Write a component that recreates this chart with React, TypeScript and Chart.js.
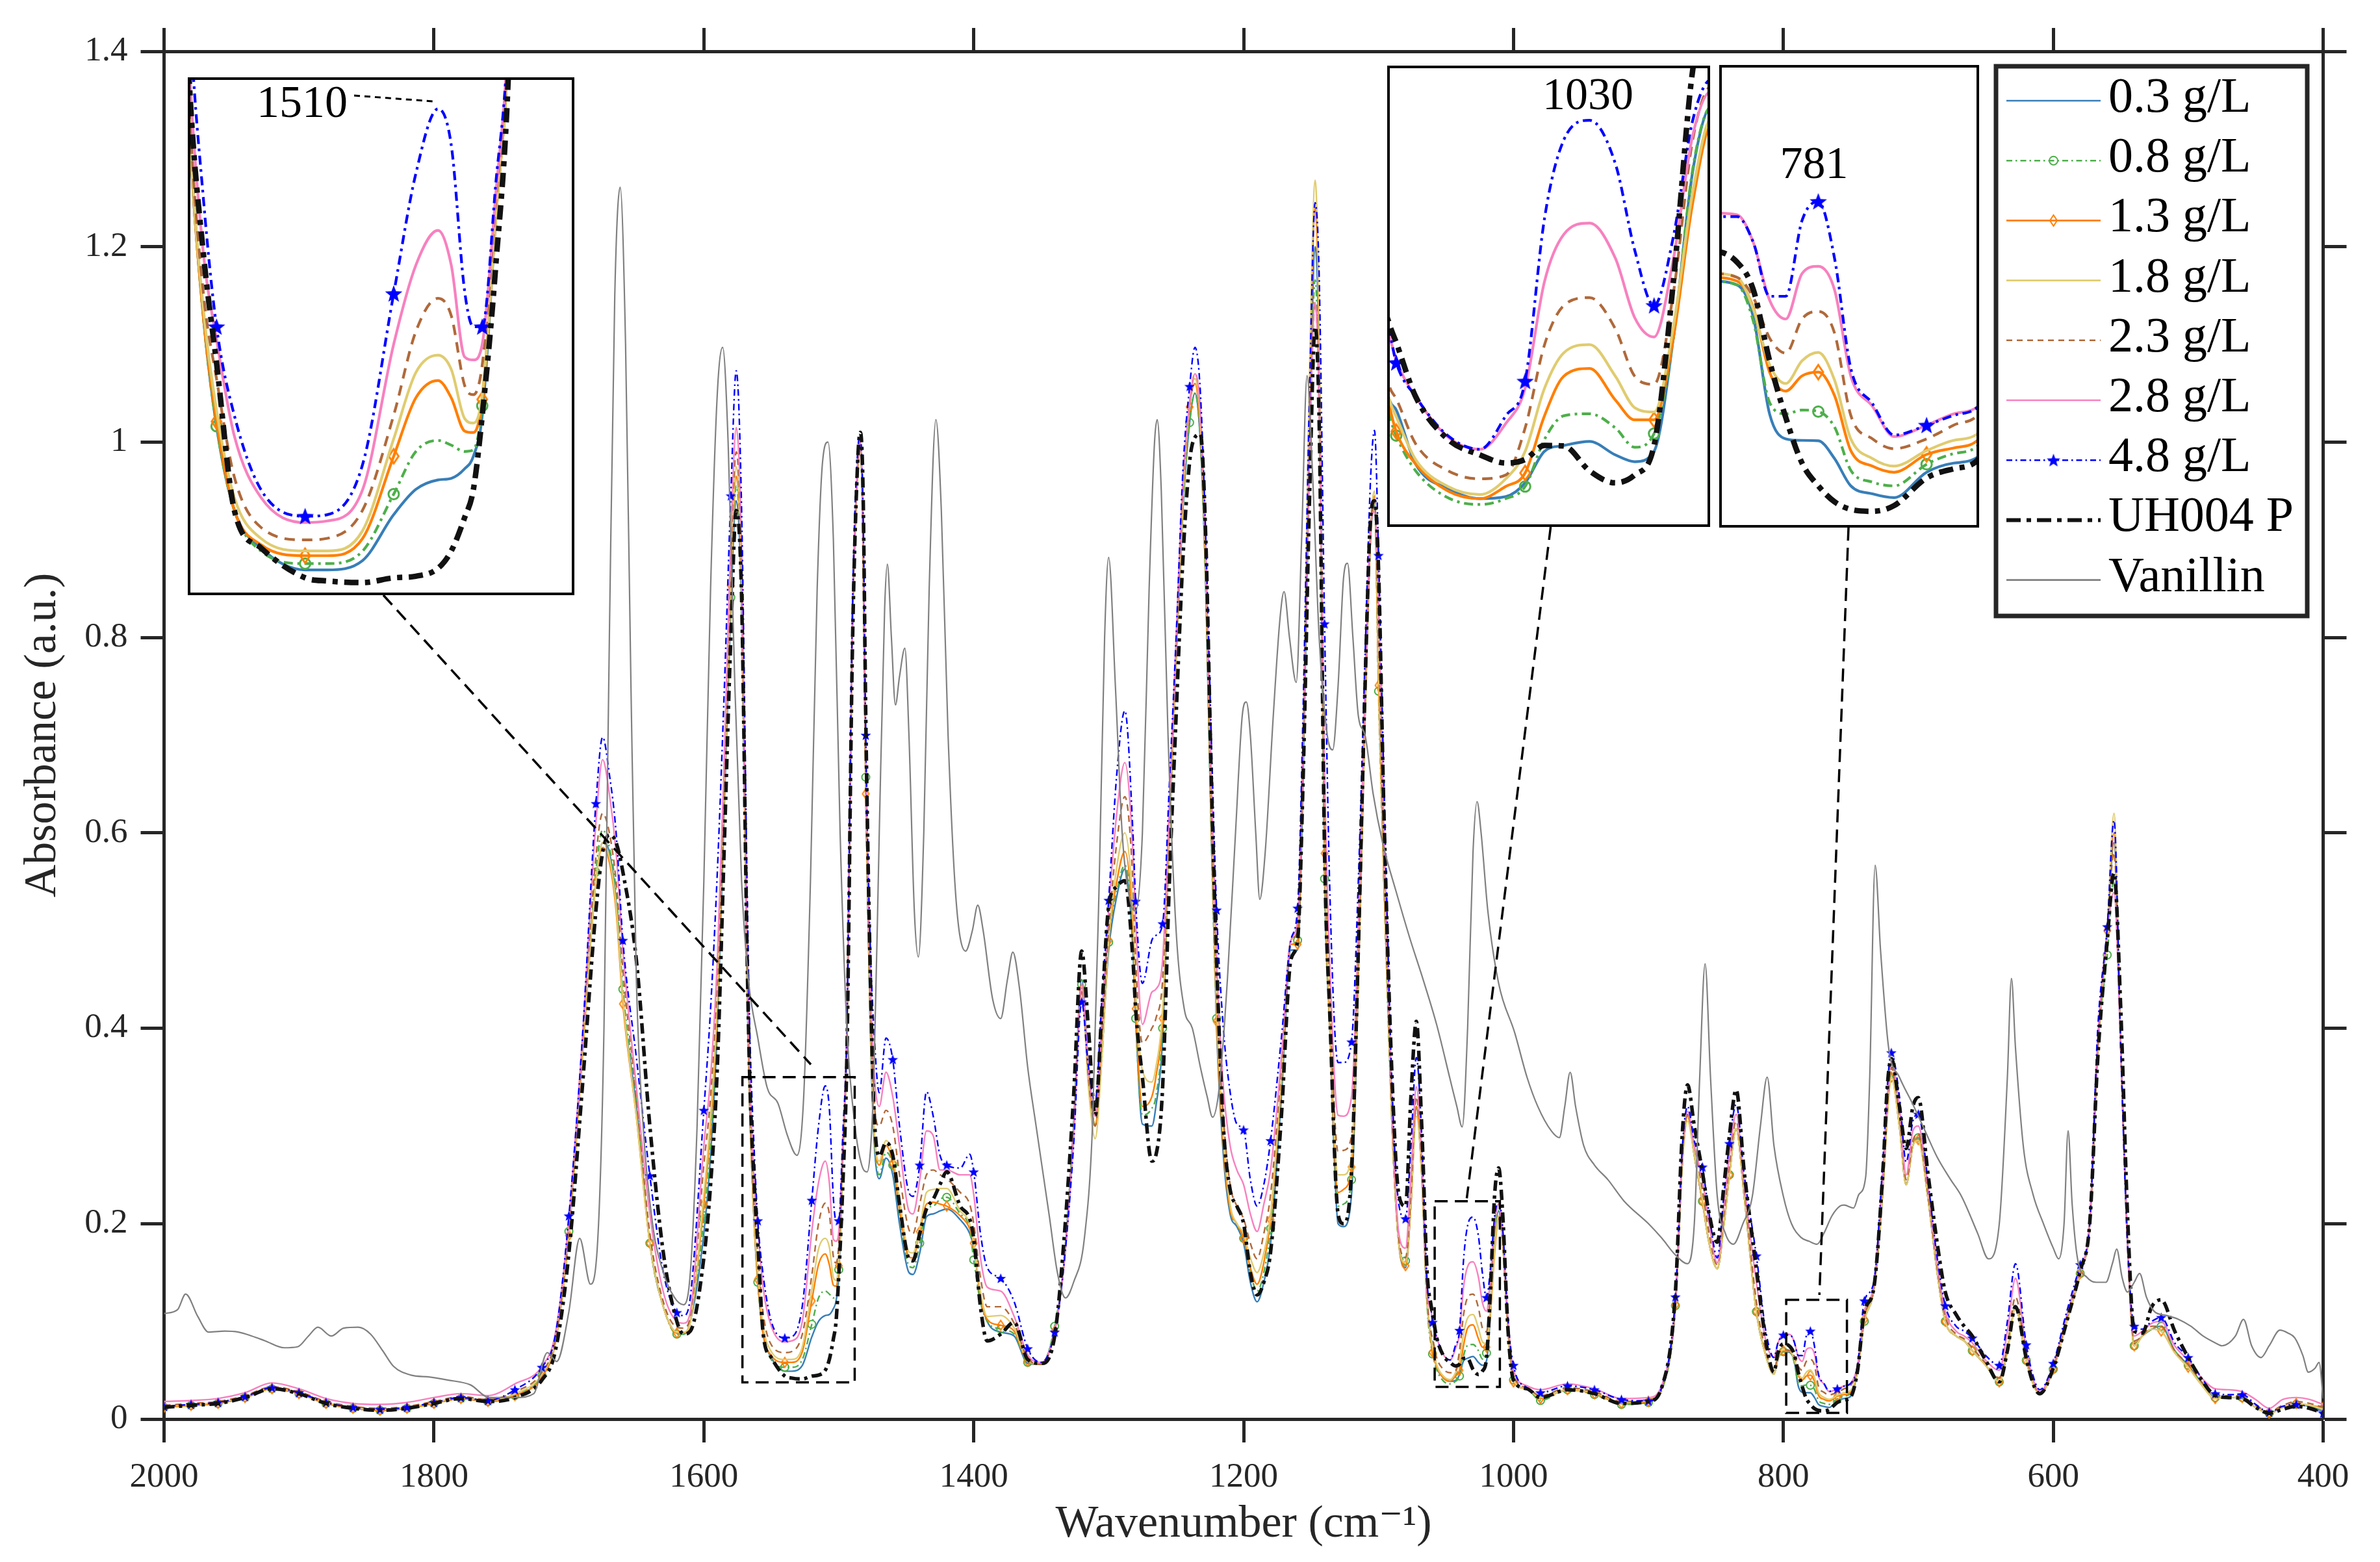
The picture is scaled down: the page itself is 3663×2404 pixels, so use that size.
import React, { useEffect, useRef } from 'react';
import { Chart, registerables } from 'chart.js';

Chart.register(...registerables);

const FONT = '"Liberation Serif", "DejaVu Serif", "Times New Roman", serif';
const AXIS_COLOR = '#262626';

// ---------------- data ----------------
const wavenumber = [
  2000, 1980, 1960, 1940, 1920, 1900, 1880, 1860, 1840, 1820, 1800, 1780, 1760, 1740, 1720,
  1710, 1700, 1690, 1680, 1675, 1670, 1665, 1660, 1650, 1640, 1630, 1620, 1615, 1610, 1600,
  1595, 1590, 1585, 1580, 1576, 1572, 1568, 1566, 1563, 1560, 1556, 1550, 1540,
  1535, 1527, 1520, 1515, 1510, 1507, 1504, 1502, 1500, 1497, 1494, 1490, 1486,
  1484, 1482, 1480, 1477, 1474, 1470, 1465, 1460, 1455, 1448, 1445, 1440, 1435,
  1430, 1425, 1420, 1410, 1403, 1400, 1395, 1390, 1380, 1370, 1360, 1350, 1340,
  1333, 1326, 1320, 1315, 1310, 1305, 1300, 1294, 1288, 1282, 1280, 1275, 1268,
  1265, 1260, 1255, 1250, 1245, 1240, 1236, 1232, 1228, 1224, 1220, 1215, 1210,
  1205, 1200, 1195, 1190, 1185, 1180, 1172, 1165, 1160, 1156, 1151, 1147, 1144,
  1140, 1136, 1130, 1126, 1120, 1115, 1110, 1106, 1103, 1100, 1096, 1090, 1085,
  1080, 1076, 1072, 1068, 1064, 1061, 1060, 1057, 1052, 1047, 1043, 1040, 1037,
  1034, 1030, 1026, 1023, 1020, 1017, 1014, 1011, 1008, 1004, 1000, 990, 980,
  960, 940, 920, 900, 890, 880, 875, 871, 866, 860, 855, 849, 844,
  840, 835, 829, 820, 813, 807, 804, 800, 795, 792, 789, 786, 783,
  780, 777, 774, 770, 766, 760, 755, 750, 745, 740, 733, 726, 723,
  720, 714, 709, 704, 700, 693, 686, 680, 672, 666, 660, 650, 640,
  634, 628, 620, 614, 610, 600, 590, 580, 573, 567, 560, 555, 550,
  545, 540, 534, 527, 520, 510, 500, 490, 480, 470, 460, 450, 440,
  430, 420, 410, 400,
];

const abs03 = [
  .012, .014, .016, .022, .031, .026, .016, .011, .009, .011, .016, .021, .018, .024, .044,
  .08, .19, .38, .55, .59, .58, .53, .43, .32, .18, .115, .088, .087, .10, .19,
  .27, .40, .62, .83, .94, .83, .45, .32, .21, .14, .087, .063, .049,
  .049, .055, .084, .10, .106, .107, .113, .121, .147, .27, .39, .80, .97,
  .99, .90, .64, .42, .29, .246, .267, .25, .20, .15, .148, .17, .207,
  .21, .213, .215, .204, .19, .176, .125, .10, .089, .085, .057, .056, .093,
  .16, .30, .45, .36, .30, .38, .48, .535, .563, .48, .41, .302, .30,
  .32, .39, .60, .78, .93, 1.02, 1.05, 1.0, .85, .60, .40, .27, .21,
  .197, .18, .14, .12, .14, .18, .33, .48, .48, .65, 1.0, 1.2, 1.08,
  .56, .40, .20, .197, .23, .45, .72, .90, .935, .76, .55, .30, .18,
  .155, .22, .32, .25, .12, .082, .078, .054, .043, .0386, .0395, .0456, .0596,
  .0622, .064, .058, .055, .0596, .11, .184, .213, .18, .09, .04, .031, .022,
  .03, .026, .016, .018, .032, .115, .26, .312, .27, .223, .18, .154, .20,
  .25, .297, .228, .11, .065, .046, .062, .069, .068, .0595, .034, .0274, .027,
  .0269, .0222, .015, .0129, .0119, .0186, .021, .0233, .05, .10, .133, .24, .32,
  .354, .30, .24, .28, .288, .228, .15, .10, .085, .08, .07, .055, .038,
  .07, .115, .06, .033, .026, .051, .10, .149, .20, .38, .50, .59, .38,
  .18, .077, .085, .092, .095, .07, .055, .037, .022, .022, .021, .012, .006,
  .012, .015, .013, .008,
];

const abs08 = [
  .012, .014, .016, .022, .031, .026, .016, .011, .009, .011, .016, .021, .018, .024, .045,
  .08, .192, .38, .56, .603, .585, .54, .44, .33, .18, .115, .087, .087, .10, .205,
  .28, .41, .63, .841, .955, .84, .455, .323, .21, .14, .087, .061, .053,
  .053, .061, .097, .124, .131, .128, .124, .125, .153, .27, .39, .80, .97,
  .99, .90, .657, .43, .295, .25, .273, .26, .21, .157, .155, .18, .215,
  .218, .225, .227, .21, .195, .163, .12, .10, .092, .087, .058, .056, .095,
  .165, .30, .445, .355, .30, .37, .488, .54, .567, .49, .41, .311, .318,
  .33, .40, .60, .78, .93, 1.02, 1.05, 1.0, .85, .60, .41, .28, .215,
  .199, .185, .15, .131, .15, .195, .34, .485, .49, .66, 1.0, 1.166, 1.03,
  .553, .40, .218, .22, .245, .45, .72, .90, .94, .745, .55, .30, .18,
  .162, .22, .32, .25, .115, .075, .0666, .051, .039, .036, .0386, .044, .0649,
  .0754, .0763, .07, .0614, .0675, .11, .185, .213, .18, .09, .04, .031, .019,
  .03, .025, .015, .017, .03, .116, .26, .312, .27, .223, .18, .154, .20,
  .25, .297, .228, .11, .065, .046, .062, .069, .068, .0584, .037, .034, .035,
  .0346, .0305, .0191, .016, .015, .0207, .0235, .0264, .05, .10, .133, .24, .32,
  .354, .30, .24, .28, .288, .228, .15, .10, .085, .08, .07, .055, .038,
  .07, .115, .06, .033, .026, .051, .10, .149, .20, .38, .475, .554, .38,
  .18, .075, .085, .092, .095, .07, .055, .037, .022, .022, .022, .012, .006,
  .012, .015, .013, .01,
];

const abs13 = [
  .012, .014, .016, .022, .031, .026, .016, .011, .009, .011, .016, .021, .018, .024, .043,
  .078, .188, .37, .55, .585, .57, .52, .425, .31, .18, .115, .088, .088, .10, .22,
  .30, .42, .635, .853, .965, .85, .46, .323, .21, .143, .087, .065, .058,
  .058, .069, .121, .158, .169, .158, .137, .136, .157, .27, .39, .80, .97,
  .99, .89, .64, .43, .30, .26, .28, .262, .215, .166, .165, .192, .22,
  .222, .22, .218, .208, .195, .18, .125, .102, .096, .09, .059, .056, .09,
  .16, .29, .44, .35, .30, .38, .49, .55, .581, .50, .42, .32, .33,
  .35, .41, .60, .78, .94, 1.036, 1.06, 1.01, .86, .61, .407, .28, .215,
  .20, .185, .155, .138, .16, .204, .345, .486, .486, .68, 1.05, 1.24, 1.10,
  .579, .40, .232, .235, .258, .45, .72, .90, .945, .751, .55, .30, .18,
  .157, .22, .32, .25, .12, .079, .0684, .054, .042, .0386, .044, .05, .0754,
  .093, .0964, .0824, .0736, .0736, .11, .17, .205, .18, .09, .038, .031, .021,
  .03, .026, .016, .018, .032, .117, .26, .31, .27, .223, .18, .154, .20,
  .25, .297, .228, .11, .065, .046, .062, .07, .069, .062, .045, .04, .044,
  .045, .0388, .0243, .0202, .0186, .0233, .025, .0279, .05, .102, .133, .24, .31,
  .35, .30, .24, .28, .286, .228, .15, .10, .085, .08, .07, .055, .038,
  .07, .115, .06, .033, .026, .051, .10, .149, .20, .38, .50, .60, .38,
  .18, .075, .085, .092, .09, .068, .053, .035, .021, .022, .022, .012, .006,
  .012, .016, .014, .012,
];

const abs18 = [
  .013, .015, .017, .023, .032, .027, .017, .012, .010, .012, .017, .022, .019, .026, .046,
  .08, .19, .375, .55, .59, .575, .525, .43, .31, .18, .115, .089, .089, .10, .23,
  .31, .43, .64, .86, .975, .86, .47, .325, .215, .15, .095, .069, .061,
  .061, .074, .132, .174, .185, .176, .145, .142, .16, .27, .39, .80, .97,
  .99, .90, .65, .43, .30, .264, .285, .27, .225, .171, .17, .195, .232,
  .235, .236, .236, .213, .20, .18, .13, .105, .106, .093, .06, .056, .09,
  .16, .29, .44, .34, .287, .37, .49, .565, .60, .52, .44, .357, .345,
  .36, .42, .60, .78, .94, 1.04, 1.065, 1.02, .87, .62, .42, .29, .22,
  .20, .19, .165, .15, .17, .21, .35, .49, .50, .70, 1.08, 1.268, 1.12,
  .60, .41, .25, .25, .27, .46, .73, .91, .95, .77, .56, .30, .18,
  .16, .22, .31, .25, .12, .082, .075, .056, .044, .0404, .0474, .0596, .0876,
  .1034, .107, .093, .079, .0771, .115, .175, .208, .18, .09, .04, .031, .022,
  .03, .027, .017, .019, .033, .118, .26, .305, .27, .225, .18, .154, .20,
  .25, .297, .228, .11, .065, .046, .063, .071, .07, .0616, .047, .042, .048,
  .0502, .0429, .0274, .0222, .0202, .0243, .027, .0295, .05, .10, .133, .24, .31,
  .35, .30, .24, .28, .285, .228, .15, .10, .085, .08, .07, .055, .038,
  .07, .115, .06, .033, .026, .051, .10, .15, .20, .38, .50, .62, .38,
  .18, .075, .085, .092, .09, .068, .053, .035, .021, .022, .022, .012, .006,
  .012, .016, .014, .010,
];

const abs23 = [
  .014, .016, .018, .024, .033, .028, .018, .013, .011, .013, .018, .023, .020, .028, .048,
  .082, .195, .385, .575, .62, .60, .55, .46, .33, .19, .12, .094, .093, .105, .26,
  .33, .45, .65, .88, .99, .87, .48, .335, .225, .17, .108, .076, .068,
  .069, .087, .147, .20, .221, .21, .166, .16, .179, .28, .395, .80, .975,
  .995, .91, .66, .45, .33, .30, .316, .30, .25, .194, .19, .22, .25,
  .255, .25, .246, .232, .22, .20, .145, .115, .115, .098, .062, .056, .09,
  .16, .29, .44, .35, .30, .39, .50, .59, .637, .55, .47, .385, .40,
  .41, .45, .62, .79, .95, 1.04, 1.07, 1.03, .88, .64, .44, .31, .24,
  .218, .205, .18, .164, .19, .23, .36, .49, .50, .68, 1.0, 1.143, 1.04,
  .62, .43, .274, .275, .29, .48, .74, .91, .94, .80, .58, .31, .185,
  .165, .23, .33, .26, .125, .088, .083, .063, .051, .0474, .0491, .07, .1069,
  .1244, .1279, .114, .093, .0894, .13, .198, .222, .185, .095, .045, .032, .024,
  .032, .028, .018, .02, .033, .12, .265, .312, .28, .235, .19, .158, .21,
  .26, .305, .235, .12, .07, .05, .065, .071, .07, .0647, .054, .05, .059,
  .061, .0553, .0336, .0274, .0248, .0274, .031, .0347, .052, .105, .135, .25, .32,
  .36, .31, .245, .285, .292, .232, .155, .105, .087, .082, .073, .057, .042,
  .075, .125, .065, .035, .027, .053, .103, .152, .20, .38, .50, .58, .38,
  .18, .08, .085, .095, .095, .07, .056, .038, .024, .024, .023, .014, .008,
  .014, .018, .016, .012,
];

const abs28 = [
  .018, .019, .021, .027, .037, .031, .021, .016, .015, .017, .022, .026, .024, .036, .054,
  .088, .205, .39, .61, .675, .64, .58, .48, .34, .21, .13, .10, .098, .11, .28,
  .35, .47, .67, .90, 1.015, .89, .50, .36, .25, .195, .134, .095, .079,
  .08, .10, .192, .242, .264, .242, .184, .182, .192, .285, .40, .81, .98,
  1.0, .92, .68, .47, .36, .32, .355, .33, .28, .213, .21, .245, .295,
  .29, .255, .255, .25, .25, .23, .165, .135, .131, .105, .066, .058, .09,
  .16, .29, .445, .36, .31, .41, .52, .62, .672, .58, .51, .404, .437,
  .44, .47, .63, .80, .96, 1.04, 1.07, 1.03, .89, .66, .47, .34, .28,
  .255, .24, .21, .192, .22, .255, .37, .49, .51, .68, 1.0, 1.143, 1.04,
  .66, .46, .311, .31, .33, .50, .75, .91, .929, .84, .60, .32, .19,
  .175, .25, .34, .27, .13, .11, .10, .084, .066, .0605, .072, .0876, .135,
  .156, .161, .1454, .119, .1104, .145, .20, .22, .19, .10, .05, .034, .03,
  .036, .031, .021, .022, .035, .122, .27, .315, .28, .245, .20, .16, .22,
  .27, .312, .24, .14, .08, .063, .078, .087, .0865, .0792, .064, .059, .071,
  .0729, .0667, .044, .036, .028, .031, .034, .0367, .055, .11, .138, .26, .33,
  .365, .32, .25, .295, .30, .24, .16, .11, .09, .085, .078, .06, .05,
  .09, .144, .07, .037, .028, .055, .106, .155, .20, .39, .50, .539, .38,
  .18, .085, .09, .098, .10, .075, .06, .042, .031, .03, .028, .02, .011,
  .02, .022, .02, .015,
];

const abs48 = [
  .013, .015, .017, .023, .032, .027, .017, .012, .010, .012, .017, .022, .019, .030, .053,
  .086, .208, .39, .63, .698, .66, .60, .49, .37, .249, .15, .109, .106, .125, .316,
  .42, .56, .74, .945, 1.073, .93, .55, .40, .285, .203, .147, .10, .083,
  .084, .116, .224, .30, .341, .318, .226, .203, .203, .292, .40, .82, .99,
  1.005, .93, .70, .50, .40, .334, .39, .368, .30, .232, .228, .26, .335,
  .31, .27, .26, .257, .271, .253, .19, .155, .144, .12, .072, .058, .089,
  .16, .28, .427, .36, .325, .43, .531, .66, .725, .60, .53, .446, .49,
  .495, .507, .65, .80, .97, 1.057, 1.097, 1.05, .90, .70, .521, .40, .335,
  .302, .296, .245, .218, .24, .285, .39, .49, .523, .72, 1.06, 1.245, 1.17,
  .814, .535, .365, .365, .386, .55, .78, .96, 1.012, .884, .65, .34, .22,
  .205, .28, .37, .29, .14, .112, .099, .084, .0666, .0605, .0754, .0908, .163,
  .198, .2067, .1874, .149, .1244, .155, .2067, .225, .195, .10, .055, .032, .027,
  .034, .03, .02, .0186, .033, .125, .275, .32, .285, .258, .21, .165, .23,
  .282, .322, .25, .167, .09, .063, .078, .086, .086, .0792, .065, .065, .085,
  .090, .075, .046, .0367, .0284, .031, .0336, .0367, .055, .121, .14, .27, .34,
  .375, .33, .263, .305, .312, .245, .165, .116, .095, .09, .083, .065, .055,
  .10, .159, .076, .04, .03, .057, .11, .158, .20, .40, .504, .613, .38,
  .18, .095, .092, .10, .104, .078, .063, .042, .026, .025, .025, .015, .007,
  .013, .015, .012, .006,
];

const absUH004P = [
  .012, .014, .016, .022, .031, .026, .016, .011, .009, .011, .016, .021, .018, .022, .040,
  .07, .17, .34, .52, .58, .598, .59, .56, .47, .30, .17, .10, .087, .09, .165,
  .24, .36, .58, .80, .93, .84, .48, .35, .25, .18, .087, .063, .044,
  .042, .041, .044, .045, .050, .061, .082, .10, .147, .24, .37, .78, .98,
  1.01, .95, .72, .48, .32, .269, .283, .27, .22, .164, .162, .19, .215,
  .225, .24, .253, .218, .205, .185, .115, .08, .087, .099, .061, .057, .085,
  .185, .33, .479, .40, .311, .42, .525, .545, .551, .47, .42, .35, .264,
  .27, .34, .55, .72, .88, .98, 1.005, 1.008, .90, .66, .47, .30, .235,
  .218, .20, .15, .127, .14, .171, .31, .47, .49, .65, .95, 1.118, 1.02,
  .58, .41, .21, .20, .255, .48, .75, .92, .94, .87, .62, .35, .23,
  .218, .33, .407, .30, .15, .1156, .108, .084, .065, .058, .0544, .056, .0622,
  .062, .0509, .0456, .0491, .0622, .135, .229, .257, .21, .09, .04, .031, .022,
  .03, .026, .016, .018, .033, .13, .29, .342, .30, .253, .21, .181, .24,
  .29, .337, .253, .154, .08, .048, .068, .077, .074, .0667, .048, .033, .021,
  .015, .0108, .0088, .0083, .0098, .0171, .0195, .0228, .05, .11, .134, .26, .34,
  .369, .32, .277, .32, .329, .253, .18, .13, .107, .095, .085, .06, .038,
  .07, .115, .062, .033, .026, .052, .10, .152, .20, .37, .49, .559, .42,
  .21, .09, .088, .115, .122, .09, .063, .04, .024, .022, .021, .012, .006,
  .01, .013, .011, .006,
];

const vanillinWavenumber = [
  2000, 1990, 1984, 1975, 1967, 1955, 1945, 1935, 1925, 1911,
  1901, 1893, 1886, 1876, 1867, 1856, 1847, 1838, 1830, 1817,
  1803, 1790, 1773, 1759, 1739, 1726, 1716, 1709, 1700, 1692,
  1684, 1678, 1674, 1670, 1666, 1662, 1658, 1654, 1650, 1645,
  1638, 1630, 1622, 1615, 1610, 1605, 1600, 1595, 1590, 1586,
  1582, 1577, 1572, 1567, 1560, 1553, 1545, 1538, 1531, 1526,
  1521, 1516, 1512, 1508, 1504, 1499, 1494, 1488, 1483, 1479,
  1474, 1470, 1466, 1464, 1461, 1458, 1455, 1451, 1448, 1444,
  1441, 1437, 1433, 1428, 1424, 1419, 1413, 1406, 1401, 1397,
  1393, 1386, 1380, 1375, 1371, 1366, 1360, 1354, 1344, 1338,
  1332, 1326, 1318, 1312, 1307, 1303, 1300, 1295, 1290, 1284,
  1280, 1275, 1270, 1266, 1264, 1261, 1256, 1250, 1244, 1238,
  1232, 1227, 1223, 1218, 1212, 1206, 1201, 1198, 1195, 1191,
  1188, 1184, 1178, 1173, 1170, 1166, 1161, 1157, 1153, 1149,
  1144, 1138, 1134, 1130, 1126, 1123, 1119, 1115, 1110, 1104,
  1097, 1087, 1077, 1067, 1057, 1047, 1042, 1038, 1034, 1030,
  1027, 1024, 1019, 1011, 999, 990, 982, 972, 966, 962,
  958, 954, 948, 940, 930, 918, 900, 890, 880, 871,
  866, 862, 858, 854, 849, 843, 837, 830, 823, 817,
  812, 807, 800, 794, 787, 781, 775, 770, 764, 758,
  755, 748, 744, 739, 736, 732, 728, 722, 714, 704,
  695, 686, 676, 668, 656, 648, 640, 634, 631, 628,
  622, 615, 607, 600, 596, 592, 589, 586, 582, 575,
  568, 561, 556, 553, 549, 545, 540, 536, 531, 525,
  516, 507, 498, 489, 480, 475, 465, 459, 453, 446,
  440, 432, 426, 421, 415, 411, 406, 403, 400,
];

const vanillinAbs = [
  .108, .112, .128, .105, .089, .09, .089, .085, .08, .073,
  .074, .085, .094, .085, .093, .094, .087, .07, .054, .045,
  .043, .04, .035, .022, .022, .026, .068, .059, .11, .185,
  .138, .2, .4, .8, 1.15, 1.261, 1.1, .75, .45, .3,
  .2, .15, .125, .117, .15, .3, .55, .85, 1.05, 1.097,
  1.0, .75, .55, .45, .39, .339, .323, .29, .27, .33,
  .55, .85, .98, 1.0, .9, .6, .4, .3, .26, .253,
  .35, .6, .83, .875, .8, .731, .76, .789, .7, .52,
  .473, .6, .85, 1.023, .93, .7, .53, .479, .5, .526,
  .5, .43, .41, .45, .478, .44, .36, .302, .208, .15,
  .124, .14, .185, .3, .55, .8, .882, .75, .6, .53,
  .52, .6, .85, 1.0, 1.023, .95, .7, .5, .42, .4,
  .36, .33, .309, .34, .45, .6, .72, .734, .7, .6,
  .532, .58, .72, .82, .847, .8, .754, .9, 1.068, .97,
  .8, .7, .685, .75, .86, .876, .8, .72, .7, .64,
  .59, .54, .493, .45, .404, .348, .32, .299, .4, .58,
  .632, .6, .52, .446, .395, .35, .32, .295, .288, .32,
  .355, .32, .28, .26, .245, .223, .2, .185, .168, .159,
  .2, .35, .466, .35, .228, .19, .179, .2, .228, .3,
  .35, .28, .228, .2, .186, .182, .179, .19, .208, .218,
  .219, .216, .23, .248, .35, .567, .48, .38, .35, .322,
  .295, .268, .245, .228, .19, .164, .2, .35, .451, .38,
  .277, .23, .199, .175, .164, .2, .295, .22, .164, .145,
  .14, .14, .16, .174, .145, .13, .14, .149, .125, .11,
  .106, .102, .095, .085, .078, .075, .085, .102, .075, .063,
  .075, .091, .088, .083, .065, .048, .052, .058, .021,
];

const xTicks = { min: 400, max: 2000, step: 200 };
const yTicks = { min: 0, max: 1.4, step: 0.2 };
const MARKER_EVERY = 20;

// ---------------- styles / layout ----------------
const SERIES = [
  { label: '0.3 g/L', values: abs03, color: '#377eb8', dash: 'solid', marker: 'none' },
  { label: '0.8 g/L', values: abs08, color: '#4daf4a', dash: 'dashdot', marker: 'circle' },
  { label: '1.3 g/L', values: abs13, color: '#ff7f00', dash: 'solid', marker: 'diamond' },
  { label: '1.8 g/L', values: abs18, color: '#e0cc70', dash: 'solid', marker: 'none' },
  { label: '2.3 g/L', values: abs23, color: '#b0693a', dash: 'dash', marker: 'none' },
  { label: '2.8 g/L', values: abs28, color: '#f781bf', dash: 'solid', marker: 'none' },
  { label: '4.8 g/L', values: abs48, color: '#0000ff', dash: 'dashdot', marker: 'star' },
  { label: 'UH004 P', values: absUH004P, color: '#111111', dash: 'uh', marker: 'none' },
];
const VANILLIN = { label: 'Vanillin', color: '#808080' };

const DASHES: any = {
  main: { solid: [], dashdot: [10, 5, 2.5, 5], dash: [10, 7], uh: [16, 7, 5, 7] },
  inset: { solid: [], dashdot: [14, 7, 4, 7], dash: [16, 11], uh: [22, 10, 8, 10] },
  legend: { solid: [], dashdot: [9, 5, 2.5, 5], dash: [9, 7], uh: [22, 9, 7, 9] },
};

const INSETS = [
  { left: 289, top: 119, width: 595, height: 797, xMin: 1479.2, xMax: 1566.5, yMin: 0.033, yMax: 0.361,
    label: '1510', labelX: 106, labelY: 61, labelAlign: 'left', pointer: [256, 28, 377, 37] },
  { left: 2135, top: 101, width: 497, height: 710, xMin: 1011.3, xMax: 1061.4, yMin: 0.026, yMax: 0.231,
    label: '1030', labelX: 309, labelY: 67, labelAlign: 'center', pointer: null },
  { left: 2646, top: 100, width: 400, height: 712, xMin: 750.3, xMax: 798.3, yMin: 0.004, yMax: 0.126,
    label: '781', labelX: 146, labelY: 174, labelAlign: 'center', pointer: null },
];

const ZOOM_BOXES = [
  { xFrom: 1571.4, xTo: 1488.2, yTop: 0.350, yBottom: 0.0376, start: [590, 916], end: [1520.7, 0.363] },
  { xFrom: 1058.4, xTo: 1010.1, yTop: 0.223, yBottom: 0.033, start: [2386.6, 811], end: [1034.6, 0.226] },
  { xFrom: 797.9, xTo: 752.9, yTop: 0.122, yBottom: 0.0063, start: [2845, 812], end: [773.3, 0.127] },
];

const LEGEND_BOX = { left: 3072, top: 102, width: 479, height: 846 };

// ---------------- helpers ----------------
function makeStar(d: number, color: string) {
  const c = document.createElement('canvas');
  c.width = d; c.height = d;
  const g = c.getContext('2d') as CanvasRenderingContext2D;
  g.fillStyle = color;
  g.beginPath();
  const R = d / 2, r = R * 0.42, cx = d / 2, cy = d / 2 + R * 0.08;
  for (let i = 0; i < 10; i++) {
    const a = -Math.PI / 2 + (i * Math.PI) / 5;
    const rr = i % 2 === 0 ? R : r;
    g.lineTo(cx + rr * Math.cos(a), cy + rr * Math.sin(a));
  }
  g.closePath();
  g.fill();
  return c;
}

function makeDiamond(w: number, h: number, color: string, lw: number) {
  const c = document.createElement('canvas');
  c.width = Math.ceil(w + lw * 2); c.height = Math.ceil(h + lw * 2);
  const g = c.getContext('2d') as CanvasRenderingContext2D;
  const cx = c.width / 2, cy = c.height / 2;
  g.strokeStyle = color; g.lineWidth = lw;
  g.beginPath();
  g.moveTo(cx, cy - h / 2); g.lineTo(cx + w / 2, cy); g.lineTo(cx, cy + h / 2); g.lineTo(cx - w / 2, cy);
  g.closePath(); g.stroke();
  return c;
}

function toPoints(xs: number[], ys: number[]) {
  const n = Math.min(xs.length, ys.length);
  const pts = [];
  for (let i = 0; i < n; i++) pts.push({ x: xs[i], y: ys[i] });
  return pts;
}

function buildDatasets(mode: 'main' | 'inset') {
  const inset = mode === 'inset';
  const star = makeStar(inset ? 28 : 17, '#0000ff');
  const diamond = makeDiamond(inset ? 15 : 10, inset ? 22 : 15, '#ff7f00', inset ? 3 : 2);
  const sets: any[] = SERIES.map((s, i) => {
    const isUH = s.dash === 'uh';
    const ds: any = {
      label: s.label,
      data: toPoints(wavenumber, s.values),
      borderColor: s.color,
      backgroundColor: s.color,
      borderWidth: isUH ? (inset ? 8.5 : 5.5) : (inset ? 4.2 : 2.4),
      borderDash: DASHES[mode][s.dash],
      borderJoinStyle: 'round',
      fill: false,
      cubicInterpolationMode: 'monotone',
      order: 10 - i,
      pointHoverRadius: 0,
      pointHitRadius: 0,
    };
    if (s.marker === 'none') {
      ds.pointRadius = 0;
    } else {
      const r = s.marker === 'circle' ? (inset ? 8 : 6) : 6;
      ds.pointRadius = (c: any) => (c.raw && c.raw.x % MARKER_EVERY === 0 ? r : 0);
      ds.pointStyle = s.marker === 'star' ? star : s.marker === 'diamond' ? diamond : 'circle';
      ds.pointBorderColor = s.color;
      ds.pointBackgroundColor = 'rgba(0,0,0,0)';
      ds.pointBorderWidth = inset ? 3 : 2;
    }
    return ds;
  });
  if (!inset) {
    sets.push({
      label: VANILLIN.label,
      data: toPoints(vanillinWavenumber, vanillinAbs),
      borderColor: VANILLIN.color,
      backgroundColor: VANILLIN.color,
      borderWidth: 2.2,
      fill: false,
      cubicInterpolationMode: 'monotone',
      order: 1,
      pointRadius: 0,
      pointHoverRadius: 0,
      pointHitRadius: 0,
    });
  }
  return sets;
}

const overlayPlugin = {
  id: 'zoomOverlay',
  afterDatasetsDraw(chart: any) {
    const { ctx } = chart;
    const x = chart.scales.x, y = chart.scales.y;
    ctx.save();
    ctx.strokeStyle = '#000';
    ctx.lineWidth = 3.5;
    ctx.setLineDash([20, 11]);
    for (const b of ZOOM_BOXES) {
      const l = x.getPixelForValue(b.xFrom), r = x.getPixelForValue(b.xTo);
      const t = y.getPixelForValue(b.yTop), bt = y.getPixelForValue(b.yBottom);
      ctx.strokeRect(l, t, r - l, bt - t);
      ctx.beginPath();
      ctx.moveTo(b.start[0], b.start[1]);
      ctx.lineTo(x.getPixelForValue(b.end[0]), y.getPixelForValue(b.end[1]));
      ctx.stroke();
    }
    ctx.restore();
  },
};

const legendPlugin = {
  id: 'boxLegend',
  afterDraw(chart: any) {
    const { ctx } = chart;
    const B = LEGEND_BOX;
    ctx.save();
    ctx.fillStyle = '#fff';
    ctx.fillRect(B.left, B.top, B.width, B.height);
    ctx.lineWidth = 7;
    ctx.strokeStyle = AXIS_COLOR;
    ctx.setLineDash([]);
    ctx.strokeRect(B.left, B.top, B.width, B.height);
    const entries: any[] = [...SERIES, { label: VANILLIN.label, color: VANILLIN.color, dash: 'solid', marker: 'none' }];
    const star = makeStar(22, '#0000ff');
    const diamond = makeDiamond(11, 17, '#ff7f00', 2);
    entries.forEach((s, i) => {
      const yy = B.top + 53 + i * 92.2;
      const x0 = B.left + 16, x1 = B.left + 161;
      ctx.setLineDash(DASHES.legend[s.dash]);
      ctx.lineWidth = s.dash === 'uh' ? 6 : 2.6;
      ctx.strokeStyle = s.color;
      ctx.beginPath(); ctx.moveTo(x0, yy); ctx.lineTo(x1, yy); ctx.stroke();
      ctx.setLineDash([]);
      const mx = (x0 + x1) / 2;
      if (s.marker === 'circle') {
        ctx.lineWidth = 2; ctx.beginPath(); ctx.arc(mx, yy, 6.5, 0, Math.PI * 2); ctx.stroke();
      } else if (s.marker === 'diamond') {
        ctx.drawImage(diamond, mx - diamond.width / 2, yy - diamond.height / 2);
      } else if (s.marker === 'star') {
        ctx.drawImage(star, mx - 11, yy - 11);
      }
      ctx.fillStyle = '#000';
      ctx.font = `76px ${FONT}`;
      ctx.textAlign = 'left';
      ctx.textBaseline = 'middle';
      ctx.fillText(s.label, B.left + 173, yy - 3);
    });
    ctx.restore();
  },
};

function makeInsetPlugin(cfg: any) {
  return {
    id: 'insetFrame',
    afterDraw(chart: any) {
      const { ctx, width, height } = chart;
      ctx.save();
      ctx.setLineDash([]);
      ctx.strokeStyle = '#000';
      ctx.lineWidth = 4;
      ctx.strokeRect(2, 2, width - 4, height - 4);
      ctx.fillStyle = '#000';
      ctx.font = `70px ${FONT}`;
      ctx.textAlign = cfg.labelAlign;
      ctx.textBaseline = 'alphabetic';
      ctx.fillText(cfg.label, cfg.labelX, cfg.labelY);
      if (cfg.pointer) {
        const [a, b, c, d] = cfg.pointer;
        ctx.lineWidth = 3;
        ctx.setLineDash([9, 7]);
        ctx.beginPath(); ctx.moveTo(a, b); ctx.lineTo(c, d); ctx.stroke();
      }
      ctx.restore();
    },
  };
}

const tickFont = { family: FONT, size: 53 };
const titleFont = { family: FONT, size: 70 };

function axisCommon() {
  return {
    grid: { drawOnChartArea: false, drawTicks: true, tickLength: 36, tickWidth: 5, tickColor: AXIS_COLOR, color: AXIS_COLOR },
    border: { display: true, width: 5, color: AXIS_COLOR },
  };
}

export default function App() {
  const mainRef = useRef<HTMLCanvasElement | null>(null);
  const r1 = useRef<HTMLCanvasElement | null>(null);
  const r2 = useRef<HTMLCanvasElement | null>(null);
  const r3 = useRef<HTMLCanvasElement | null>(null);

  useEffect(() => {
    const charts: Chart[] = [];
    if (mainRef.current) {
      charts.push(new Chart(mainRef.current, {
        type: 'line',
        data: { datasets: buildDatasets('main') },
        options: {
          responsive: false,
          animation: false,
          devicePixelRatio: 1,
          layout: { padding: 0, autoPadding: false },
          plugins: { legend: { display: false }, tooltip: { enabled: false }, title: { display: false } },
          scales: {
            x: {
              type: 'linear', position: 'bottom', min: xTicks.min, max: xTicks.max, reverse: true,
              ticks: { stepSize: xTicks.step, font: tickFont, color: AXIS_COLOR, padding: 22, maxRotation: 0, autoSkip: false,
                callback: (v: any) => String(Math.round(v)) },
              title: { display: true, text: 'Wavenumber (cm\u207B\u00B9)', font: titleFont, color: AXIS_COLOR, padding: { top: 0, bottom: 15 } },
              ...axisCommon(),
              afterFit: (s: any) => { s.height = 220; },
            },
            x2: {
              type: 'linear', position: 'top', min: xTicks.min, max: xTicks.max, reverse: true,
              ticks: { stepSize: xTicks.step, display: false },
              ...axisCommon(),
              afterFit: (s: any) => { s.height = 79; },
            },
            y: {
              type: 'linear', position: 'left', min: yTicks.min, max: yTicks.max,
              ticks: { stepSize: yTicks.step, font: tickFont, color: AXIS_COLOR, padding: 20,
                callback: (v: any) => String(Math.round(v * 10) / 10) },
              title: { display: true, text: 'Absorbance (a.u.)', font: titleFont, color: AXIS_COLOR, padding: { top: 25, bottom: 0 } },
              ...axisCommon(),
              afterFit: (s: any) => { s.width = 252.5; },
            },
            y2: {
              type: 'linear', position: 'right', min: yTicks.min, max: yTicks.max,
              ticks: { stepSize: yTicks.step, display: false },
              ...axisCommon(),
              afterFit: (s: any) => { s.width = 87.5; },
            },
          },
        } as any,
        plugins: [overlayPlugin, legendPlugin],
      }));
    }
    [r1, r2, r3].forEach((ref, i) => {
      const cfg = INSETS[i];
      if (!ref.current) return;
      charts.push(new Chart(ref.current, {
        type: 'line',
        data: { datasets: buildDatasets('inset') },
        options: {
          responsive: false,
          animation: false,
          devicePixelRatio: 1,
          layout: { padding: 0, autoPadding: false },
          plugins: { legend: { display: false }, tooltip: { enabled: false } },
          scales: {
            x: { type: 'linear', display: false, min: cfg.xMin, max: cfg.xMax, reverse: true },
            y: { type: 'linear', display: false, min: cfg.yMin, max: cfg.yMax },
          },
        } as any,
        plugins: [makeInsetPlugin(cfg)],
      }));
    });
    return () => { charts.forEach((c) => c.destroy()); };
  }, []);

  const refs = [r1, r2, r3];
  return (
    <div style={{ position: 'absolute', left: 0, top: 0, width: 3663, height: 2404, background: '#fff', overflow: 'hidden' }}>
      <canvas ref={mainRef} width={3663} height={2404} style={{ position: 'absolute', left: 0, top: 0, width: 3663, height: 2404 }} />
      {INSETS.map((c, i) => (
        <canvas key={i} ref={refs[i]} width={c.width} height={c.height}
          style={{ position: 'absolute', left: c.left, top: c.top, width: c.width, height: c.height, background: '#fff' }} />
      ))}
    </div>
  );
}
